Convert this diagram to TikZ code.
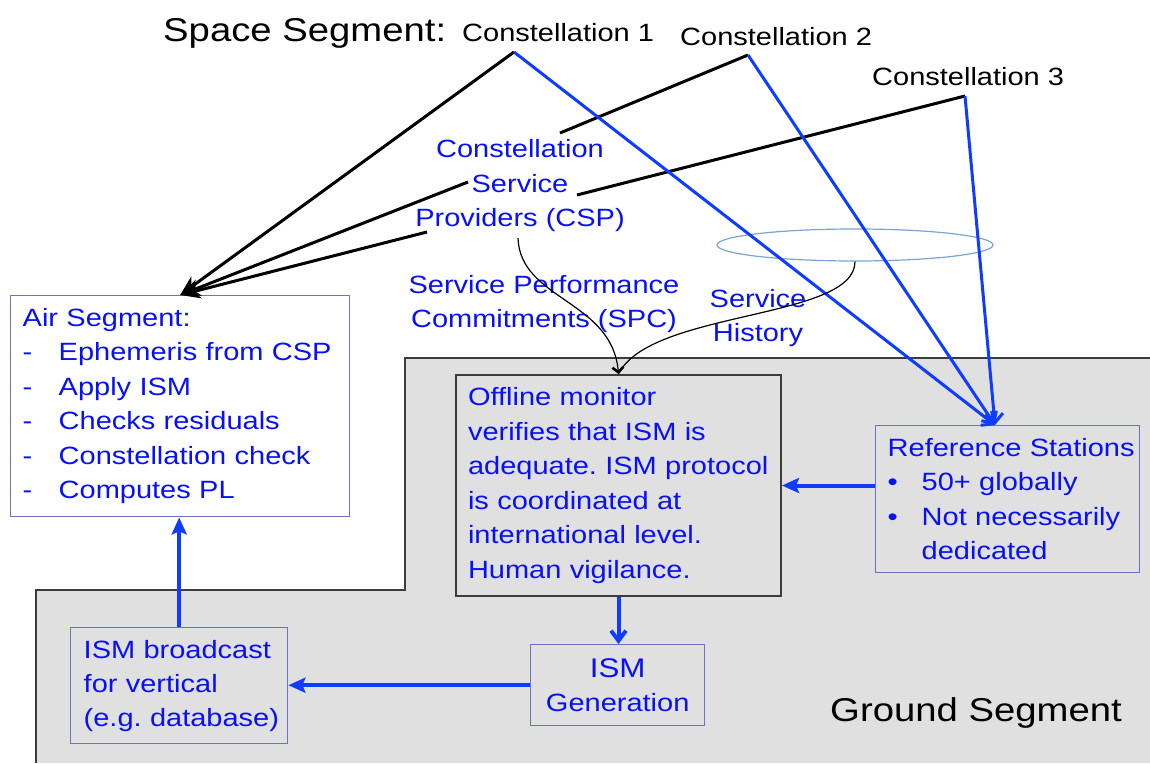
\documentclass[tikz,border=0pt]{standalone}
\usepackage{fontspec}
\setmainfont{Liberation Sans}[FakeStretch=1.16]
\usetikzlibrary{arrows.meta,shapes.geometric}
\frenchspacing

\definecolor{txtblue}{RGB}{8,16,245}
\definecolor{arrblue}{RGB}{15,60,255}
\definecolor{boxedge}{RGB}{108,114,196}
\definecolor{groundfill}{RGB}{224,224,224}
\definecolor{groundedge}{RGB}{60,60,60}
\definecolor{histedge}{RGB}{120,165,210}

\newcommand{\fs}[2]{\fontsize{#1}{#2}\selectfont}
\newcommand{\dashitem}[1]{\mbox{\makebox[36pt][l]{-}#1}}
\newcommand{\bulitem}[1]{\mbox{\makebox[34pt][l]{\textbullet}#1}}

\begin{document}
\begin{tikzpicture}[x=1pt,y=-1pt,
  every node/.style={inner sep=0pt},
  basefont/.style={font=\fs{25}{34.5}\frenchspacing},
  bluetext/.style={basefont, text=txtblue},
  listbox/.style={draw=boxedge, line width=1.4pt, text=txtblue, basefont,
    align=left, anchor=north west, inner xsep=12pt},
  greybox/.style={draw=groundedge, line width=2pt, fill=groundfill, text=txtblue,
    basefont, align=left, anchor=north west, inner xsep=12pt},
  blackline/.style={line width=3pt, black},
  blackarrow/.style={blackline, -{Stealth[length=20pt,width=17pt]}},
  satlink/.style={line width=3pt, arrblue, -{Straight Barb[length=9pt,width=18pt]}},
  flowarrow/.style={line width=4pt, arrblue, -{Stealth[length=17pt,width=15pt,inset=3pt]}},
  flowbarb/.style={line width=4pt, arrblue, -{Straight Barb[length=10pt,width=15pt]}},
  infocurve/.style={line width=1.2pt, black},
  infoarrow/.style={infocurve, -{Straight Barb[length=5pt,width=11pt,line width=2.6pt]}}
]
\useasboundingbox (0,0) rectangle (1150,763);

% ground segment area
\fill[groundfill] (36,763) -- (36,590) -- (405,590) -- (405,358) -- (1150,358) -- (1150,763) -- cycle;
\draw[groundedge, line width=2pt] (36,763) -- (36,590) -- (405,590) -- (405,358) -- (1151,358);
\node[font=\fs{33}{38}, anchor=center] (ground) at (976,713) {Ground Segment};

% space segment titles
\node[font=\fs{33}{40}, anchor=base west] (space) at (163,41) {Space Segment:};
\node[basefont, anchor=base west] (con1) at (462,41) {Constellation 1};
\node[basefont, anchor=base west] (con2) at (680,45) {Constellation 2};
\node[basefont, anchor=base west] (con3) at (872,85) {Constellation 3};
\coordinate (c1) at (514,52);
\coordinate (c2) at (748,55);
\coordinate (c3) at (965,96);

% constellation service providers
\node[bluetext, align=center] (csp) at (520,186) {Constellation\\Service\\Providers (CSP)};
\coordinate (cspTop) at (560,133);
\coordinate (cspRight) at (577,195);
\coordinate (cspMid) at (468,182);
\coordinate (cspLow) at (427,232);
\coordinate (cspOut) at (518,238);

% service history
\node[ellipse, draw=histedge, line width=1.2pt, minimum width=276, minimum height=32] (hist) at (855,245) {};
\node[bluetext, align=center] (spc) at (544,304) {Service Performance\\Commitments (SPC)};
\node[bluetext, align=center] (histlbl) at (758,318) {Service\\History};

% boxes
\node[listbox, fill=white, text width=315, minimum height=221] (air) at (10,295)
  {Air Segment:\\\dashitem{Ephemeris from CSP}\\\dashitem{Apply ISM}\\\dashitem{Checks residuals}\\\dashitem{Constellation check}\\\dashitem{Computes PL}};
\node[greybox, text width=301, minimum height=221] (offline) at (455,374)
  {Offline monitor\\verifies that ISM is\\\mbox{adequate. ISM protocol}\\is coordinated at\\international level.\\Human vigilance.};
\node[listbox, text width=240, minimum height=147] (refst) at (875,425)
  {\mbox{Reference Stations}\\\bulitem{50+ globally}\\\bulitem{Not necessarily}\\\hspace*{34pt}dedicated};
\node[listbox, align=center, minimum width=174, minimum height=81, inner xsep=0pt] (ismgen) at (530,644)
  {{\fs{27}{34}ISM}\\Generation};
\node[listbox, font=\fs{25}{34}\frenchspacing, inner xsep=13pt, text width=191, minimum height=116] (bcast) at (70,627)
  {ISM broadcast\\for vertical\\\mbox{(e.g. database)}};
\coordinate (rsTip) at (995,425);

% links from the constellations
\draw[blackarrow] (c1) -- (air.north);
\draw[blackarrow] (cspMid) -- (air.north);
\draw[blackarrow] (cspLow) -- (air.north);
\draw[blackline] (c2) -- (cspTop);
\draw[blackline] (c3) -- (cspRight);
\draw[satlink] (c1) -- (rsTip);
\draw[satlink] (c2) -- (rsTip);
\draw[satlink] (c3) -- (rsTip);

% performance commitments and history into the monitor
\draw[infoarrow] (cspOut) .. controls (520,300) and (612,300) .. (offline.north);
\draw[infocurve] (hist.south) .. controls (855,320) and (650,310) .. (offline.north);

% ground segment flow
\draw[flowarrow] (refst.west |- offline.east) -- (offline.east);
\draw[flowbarb] (offline.south) -- (offline.south |- ismgen.north);
\draw[flowarrow] (ismgen.west) -- (bcast.east |- ismgen.west);
\draw[flowarrow] (bcast.north) -- (bcast.north |- air.south);
\end{tikzpicture}
\end{document}
